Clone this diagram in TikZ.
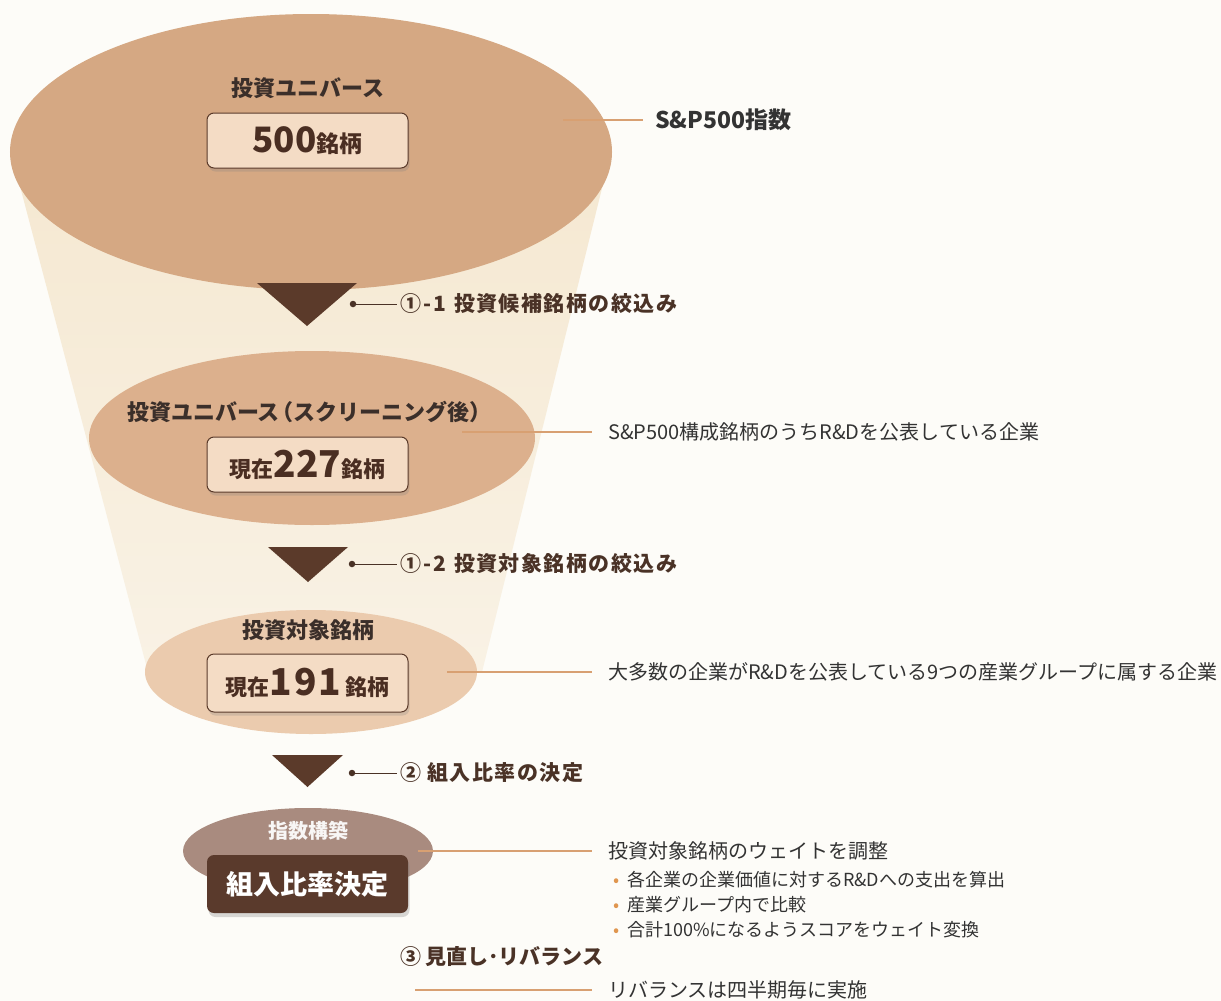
\documentclass[tikz,border=0pt]{standalone}
\usepackage{fontspec}
\setmainfont{Noto Sans CJK JP}
\usetikzlibrary{shapes.geometric,shadows}
\definecolor{bg}{HTML}{FDFCF8}
\definecolor{funA}{HTML}{F5E8D1}
\definecolor{funB}{HTML}{F9F2E5}
\definecolor{eA}{HTML}{D5A883}
\definecolor{eB}{HTML}{DCB08D}
\definecolor{eC}{HTML}{EBCBAE}
\definecolor{eD}{HTML}{A98B7F}
\definecolor{boxfill}{HTML}{F4DCC5}
\definecolor{boxline}{HTML}{5A3A2A}
\definecolor{numc}{HTML}{4A2E22}
\definecolor{headc}{HTML}{3B2F2A}
\definecolor{darkbox}{HTML}{5A3A2C}
\definecolor{tric}{HTML}{5B3A2A}
\definecolor{labc}{HTML}{4A3226}
\definecolor{connc}{HTML}{D8A072}
\definecolor{descc}{HTML}{333333}
\definecolor{bulc}{HTML}{E0964F}
\newcommand{\fsz}[1]{\fontsize{#1bp}{#1bp}\selectfont}
\newcommand{\spaced}[1]{{\addfontfeature{LetterSpace=7}#1}}
\begin{document}
\begin{tikzpicture}[x=1bp,y=-1bp,
  ell/.style={ellipse,inner sep=0pt,draw=none},
  head/.style={font=\fsz{22}\bfseries,text=headc,inner sep=0pt},
  numbox/.style={rounded corners=7bp,draw=boxline,line width=1bp,fill=boxfill,
     minimum width=201bp,inner sep=0pt,text=numc,font=\bfseries,
     drop shadow={opacity=0.25,shadow xshift=1.5bp,shadow yshift=-3.5bp}},
  dbox/.style={rounded corners=7bp,fill=darkbox,minimum width=201bp,minimum height=58bp,
     inner sep=0pt,text=white,font=\fsz{27}\bfseries,
     drop shadow={opacity=0.3,shadow xshift=1.5bp,shadow yshift=-4bp}},
  tri/.style={fill=tric},
  dot/.style={circle,fill=labc,inner sep=0pt,minimum size=6.5bp},
  steplab/.style={anchor=west,font=\fsz{21}\bfseries,text=labc,inner xsep=3bp,inner ysep=0pt},
  labline/.style={draw=labc,line width=1bp},
  desc/.style={anchor=west,font=\fsz{20},text=descc,inner xsep=16bp,inner ysep=0pt},
  bul/.style={anchor=west,font=\fsz{18},text=descc,inner sep=0pt},
  conn/.style={draw=connc,line width=1.5bp}]
\fill[bg] (0,0) rectangle (1221,1001);
\useasboundingbox (0,0) rectangle (1221,1001);
% funnel body
\shade[top color=funA,bottom color=funB] (11,152) -- (611,152) -- (482,672) -- (148,672) -- cycle;
% ellipses
\node[ell,fill=eA,minimum width=602bp,minimum height=276bp] (e1) at (311,152) {};
\node[ell,fill=eB,minimum width=446bp,minimum height=174bp] (e2) at (312,438) {};
\node[ell,fill=eC,minimum width=332bp,minimum height=124bp] (e3) at (311,672) {};
\node[ell,fill=eD,minimum width=250bp,minimum height=86bp] (e4) at (308,851) {};
% headings
\node[head] (h1) at (308,88) {投資ユニバース};
\node[head] (h2) at (305,412) {投資ユニバース\kern-8bp（スクリーニング後）\kern-9bp};
\node[head] (h3) at (308,630) {投資対象銘柄};
\node[head,text=white!92!eD,font=\fsz{20}\bfseries] (h4) at (308,831) {指数構築};
% boxes
\node[numbox,minimum height=55bp] (b1) at (307.5,140.5) {\fsz{35}500\fsz{23}銘柄};
\node[numbox,minimum height=55bp] (b2) at (307.5,464.5) {\fsz{22}現在\fsz{37}227\fsz{22}銘柄};
\node[numbox,minimum height=58bp] (b3) at (307.5,683) {\fsz{22}現在\fsz{37}1\kern2bp 9\kern2bp 1\kern4bp\fsz{22}銘柄};
\node[dbox] (b4) at (307.5,884) {組入比率決定};
% triangles
\fill[tri] (257,283) -- (357,283) -- (307,326) -- cycle;
\fill[tri] (268,547) -- (348,547) -- (308,582) -- cycle;
\fill[tri] (272,755) -- (343,755) -- (307.5,787) -- cycle;
% step labels
\node[dot] (d1) at (353,304) {};
\node[steplab] (s1) at (397,304) {①\kern2bp-\kern2bp1\kern8bp \spaced{投資候補銘柄の絞込み}};
\draw[labline] (d1) -- (s1.west);
\node[dot] (d2) at (352,564) {};
\node[steplab] (s2) at (397,564) {①\kern2bp-\kern2bp2\kern8bp \spaced{投資対象銘柄の絞込み}};
\draw[labline] (d2) -- (s2.west);
\node[dot] (d3) at (352,773) {};
\node[steplab] (s3) at (397,773) {②\kern6bp \spaced{組入比率の決定}};
\draw[labline] (d3) -- (s3.west);
\node[steplab] (s4) at (397,957) {③\kern4bp 見直し･リバランス};
% descriptions
\coordinate (c1) at (563,120);
\node[desc,font=\fsz{23}\bfseries,inner xsep=12bp] (r1) at (643,120) {S\&P500指数};
\draw[conn] (c1) -- (r1.west);
\coordinate (c2) at (462,432);
\node[desc] (r2) at (592,432) {S\&P500構成銘柄のうちR\&Dを公表している企業};
\draw[conn] (c2) -- (r2.west);
\coordinate (c3) at (447,672);
\node[desc] (r3) at (592,672) {大多数の企業がR\&Dを公表している9つの産業グループに属する企業};
\draw[conn] (c3) -- (r3.west);
\coordinate (c4) at (418,851);
\node[desc] (r4) at (592,851) {投資対象銘柄のウェイトを調整};
\draw[conn] (c4) -- (r4.west);
\node[bul] (u1) at (613,880) {\textcolor{bulc}{•}\kern8bp 各企業の企業価値に対するR\&Dへの支出を算出};
\node[bul] (u2) at (613,905) {\textcolor{bulc}{•}\kern8bp 産業グループ内で比較};
\node[bul] (u3) at (613,930) {\textcolor{bulc}{•}\kern8bp 合計100\%になるようスコアをウェイト変換};
\coordinate (c5) at (415,990);
\node[desc] (r5) at (592,990) {リバランスは四半期毎に実施};
\draw[conn] (c5) -- (r5.west);
\end{tikzpicture}
\end{document}
